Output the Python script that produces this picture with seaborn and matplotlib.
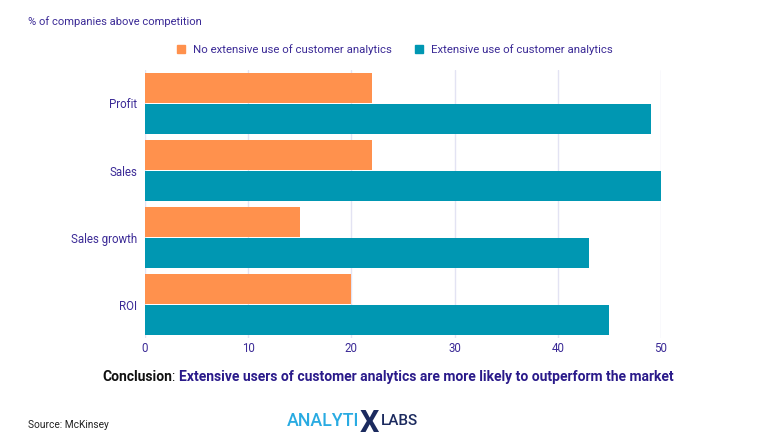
import matplotlib
matplotlib.use("Agg")
import matplotlib.pyplot as plt
import seaborn as sns
import pandas as pd

categories = ["Profit", "Sales", "Sales growth", "ROI"]
series_names = ["No extensive use of customer analytics", "Extensive use of customer analytics"]
no_extensive = [22, 22, 15, 20]
extensive = [49, 50, 43, 45]
x_ticks = [0, 10, 20, 30, 40, 50]

df = pd.DataFrame({
    "metric": categories * 2,
    "value": no_extensive + extensive,
    "group": [series_names[0]] * 4 + [series_names[1]] * 4,
})

sns.set_theme(style="white")
plt.rcParams['font.family'] = ['Roboto', 'DejaVu Sans']

INDIGO = "#3b2a96"
ORANGE = "#FF914D"
TEAL = "#0097B2"

fig = plt.figure(figsize=(7.68, 4.48), dpi=100)
ax = fig.add_axes([145/768, 1 - 338/448, 516/768, 268/448])

sns.barplot(data=df, x="value", y="metric", hue="group", order=categories,
            hue_order=series_names, palette=[ORANGE, TEAL], orient="h",
            width=0.92, gap=0.02, linewidth=0, saturation=1, ax=ax, legend=False)

ax.set_xlim(0, 50)
ax.set_xticks(x_ticks)
ax.set_xticklabels([str(t) for t in x_ticks])
ax.xaxis.grid(True, color="#e3e3f3", linewidth=1)
ax.set_axisbelow(True)
for s in ax.spines.values():
    s.set_visible(False)
ax.set_xlabel("")
ax.set_ylabel("")
ax.tick_params(axis="both", length=0, labelsize=8.3, colors=INDIGO)
ax.tick_params(axis="y", pad=5.5)
ax.tick_params(axis="x", pad=3)

# header
fig.text(28/768, 1 - 22/448, "% of companies above competition", fontsize=8,
         color=INDIGO, va="center", ha="left")

# legend
from matplotlib.patches import Patch
handles = [Patch(color=ORANGE), Patch(color=TEAL)]
leg = fig.legend(handles, series_names, loc="center", bbox_to_anchor=(395/768, 1 - 50/448),
                 ncol=2, frameon=False, fontsize=8.2, handlelength=0.7, handleheight=0.7,
                 columnspacing=2.0, handletextpad=0.7)
for t in leg.get_texts():
    t.set_color(INDIGO)

# conclusion
y_c = 1 - 377/448
FS_C = 10.0
t1 = fig.text(102/768, y_c, "Conclusion", fontsize=FS_C, fontweight="bold",
              color="#111111", va="center", ha="left")
fig.canvas.draw()
x2 = t1.get_window_extent().x1 / fig.bbox.width
t2 = fig.text(x2, y_c, ": ", fontsize=FS_C, color="#111111", va="center", ha="left")
fig.canvas.draw()
x3 = t2.get_window_extent().x1 / fig.bbox.width
fig.text(x3, y_c, "Extensive users of customer analytics are more likely to outperform the market",
         fontsize=FS_C, fontweight="bold", color="#2a1a8a", va="center", ha="left")

# source
fig.text(28/768, 1 - 425/448, "Source: McKinsey", fontsize=7.3, color="#222222",
         va="center", ha="left")

# logo text
y_l = 1 - 421/448
l1 = fig.text(287/768, y_l, "ANALYTI", fontsize=12.8, fontweight="medium", color="#29abe2",
              va="center", ha="left")
fig.canvas.draw()
xl = l1.get_window_extent().x1 / fig.bbox.width
l2 = fig.text(xl, y_l - 2/448, "X", fontsize=22, fontweight="bold", color="#1b2a5e",
              va="center", ha="left")
fig.canvas.draw()
xl2 = l2.get_window_extent().x1 / fig.bbox.width
fig.text(xl2 + 2/768, y_l, "LABS", fontsize=11, fontweight="medium", color="#1b2a5e",
         va="center", ha="left")

fig.savefig("out.png", dpi=100)
